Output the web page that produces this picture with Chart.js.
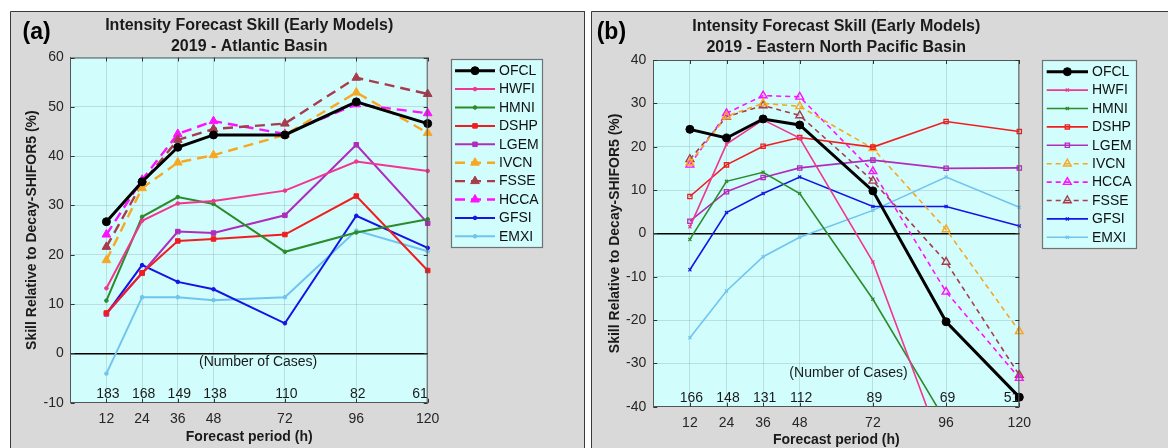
<!DOCTYPE html>
<html><head><meta charset="utf-8">
<script src="https://cdn.jsdelivr.net/npm/chart.js@4.4.1/dist/chart.umd.min.js"></script>
<style>
html,body{margin:0;padding:0;background:#fff;width:1168px;height:448px;overflow:hidden;}
canvas{position:absolute;}
#ca{left:10px;top:11px;}
#cb{left:591px;top:11px;}
</style></head><body>
<canvas id="ca" width="575" height="437"></canvas>
<canvas id="cb" width="577" height="437"></canvas>
<script>
// ---------- DATA ----------
const hours = [12, 24, 36, 48, 72, 96, 120];

// (a) 2019 Atlantic Basin
const aOFCL = [26.7, 34.8, 41.8, 44.3, 44.3, 51.0, 46.6];
const aHWFI = [13.2, 26.9, 30.4, 30.9, 33.0, 38.9, 37.0];
const aHMNI = [10.7, 27.7, 31.7, 30.3, 20.6, 24.5, 27.2];
const aDSHP = [8.2, 16.3, 22.8, 23.2, 24.1, 31.9, 16.8];
const aLGEM = [8.0, 16.3, 24.7, 24.4, 28.0, 42.3, 26.4];
const aIVCN = [18.9, 33.5, 38.7, 40.2, 44.3, 52.9, 44.7];
const aFSSE = [21.6, 34.5, 43.3, 45.5, 46.6, 55.9, 52.6];
const aHCCA = [24.1, 35.2, 44.5, 47.1, 44.5, 50.5, 48.7];
const aGFSI = [8.0, 17.9, 14.5, 13.0, 6.1, 27.9, 21.4];
const aEMXI = [-4.1, 11.4, 11.4, 10.8, 11.4, 24.9, 20.7];
const aCases = ['183', '168', '149', '138', '110', '82', '61'];

// (b) 2019 Eastern North Pacific Basin
const bOFCL = [24.0, 22.0, 26.4, 25.0, 9.8, -20.4, -37.8];
const bHWFI = [1.5, 20.6, 26.2, 22.0, -6.6, -52.0, -60.0];
const bHMNI = [-1.4, 12.0, 14.1, 9.2, -15.2, -43.5, -50.0];
const bDSHP = [8.5, 15.8, 20.1, 22.1, 19.9, 25.8, 23.5];
const bLGEM = [2.8, 9.6, 12.9, 15.1, 16.9, 15.0, 15.1];
const bIVCN = [16.3, 27.0, 30.0, 29.3, 19.6, 0.9, -22.6];
const bHCCA = [15.8, 27.7, 31.8, 31.5, 14.3, -13.5, -33.4];
const bFSSE = [17.1, 26.9, 29.5, 27.2, 12.1, -6.6, -32.7];
const bGFSI = [-8.4, 4.8, 9.2, 13.0, 6.2, 6.2, 1.7];
const bEMXI = [-24.1, -13.3, -5.4, -0.9, 5.3, 13.0, 6.0];
const bCases = ['166', '148', '131', '112', '89', '69', '51'];

const aOrder = ['OFCL','HWFI','HMNI','DSHP','LGEM','IVCN','FSSE','HCCA','GFSI','EMXI'];
const bOrder = ['OFCL','HWFI','HMNI','DSHP','LGEM','IVCN','HCCA','FSSE','GFSI','EMXI'];
const aSeries = {OFCL:aOFCL,HWFI:aHWFI,HMNI:aHMNI,DSHP:aDSHP,LGEM:aLGEM,IVCN:aIVCN,FSSE:aFSSE,HCCA:aHCCA,GFSI:aGFSI,EMXI:aEMXI};
const bSeries = {OFCL:bOFCL,HWFI:bHWFI,HMNI:bHMNI,DSHP:bDSHP,LGEM:bLGEM,IVCN:bIVCN,HCCA:bHCCA,FSSE:bFSSE,GFSI:bGFSI,EMXI:bEMXI};

// ---------- STYLE ----------
const FONT = "'Liberation Sans', Arial, Helvetica, sans-serif";
const COLORS = {OFCL:'#000000', HWFI:'#f0368e', HMNI:'#2a8c2a', DSHP:'#f01e1e', LGEM:'#b02cbc',
  IVCN:'#f7a823', FSSE:'#a63c4c', HCCA:'#ff10ff', GFSI:'#1414e6', EMXI:'#70c4ee'};
const PANEL_BG = '#d9d9d9';
const PLOT_BG = '#d2fdfd';
const GRID = 'rgba(110,140,140,0.25)';
const AXIS = '#555555';

function styleFor(name, panel) {
  const c = COLORS[name];
  const s = {borderColor:c, pointBorderColor:c, pointBackgroundColor:c, borderDash:[], borderWidth:2,
    pointStyle:'circle', pointRadius:1.8, pointBorderWidth:1};
  if (name === 'OFCL') { s.borderWidth = 3; s.pointRadius = 4; s.pointStyle = 'circle'; return s; }
  const dashed = ['IVCN','FSSE','HCCA'].includes(name);
  const sq = ['DSHP','LGEM'].includes(name);
  if (panel === 'a') {
    s.borderWidth = 2;
    if (dashed) { s.borderWidth = 2.4; s.borderDash = [10,6]; s.pointStyle = 'triangle'; s.pointRadius = 5; }
    else if (sq) { s.pointStyle = 'rect'; s.pointRadius = 3.2; }
    else { s.pointStyle = 'circle'; s.pointRadius = 1.8; }
  } else {
    s.borderWidth = 1.6;
    if (dashed) { s.borderDash = [5,4]; s.pointStyle = 'triangle'; s.pointRadius = 4.5;
      s.pointBackgroundColor = 'rgba(0,0,0,0)'; s.pointBorderWidth = 1.4; }
    else if (sq) { s.pointStyle = 'rect'; s.pointRadius = 3; s.pointBackgroundColor = 'rgba(0,0,0,0)'; s.pointBorderWidth = 1.3; }
    else { s.pointStyle = 'crossRot'; s.pointRadius = 2.2; s.pointBorderWidth = 1.2; }
  }
  return s;
}

function makeDatasets(order, series, panel) {
  return order.map(name => Object.assign({
    label: name,
    data: hours.map((h, i) => ({x: h, y: series[name][i]})),
    tension: 0, fill: false, pointHoverRadius: 0,
    clip: {left: 8, top: 8, right: 8, bottom: 0}
  }, styleFor(name, panel)));
}

function makeScales(ymin, ymax, yw, xh) {
  return {
    x: {type: 'linear', min: 0, max: 120,
      afterBuildTicks: s => { s.ticks = hours.map(v => ({value: v})); },
      afterFit: s => { s.height = xh; },
      ticks: {font: {family: FONT, size: 14}, color: '#262626', padding: 8, maxRotation: 0, autoSkip: false,
        callback: v => String(v)},
      grid: {color: GRID, lineWidth: 1, drawTicks: false},
      border: {display: true, color: AXIS, width: 1}},
    y: {type: 'linear', min: ymin, max: ymax,
      afterFit: s => { s.width = yw; },
      ticks: {stepSize: 10, font: {family: FONT, size: 14}, color: '#262626', padding: 7},
      grid: {color: c => (c.tick && c.tick.value === 0) ? '#000000' : GRID,
             lineWidth: c => (c.tick && c.tick.value === 0) ? 1.6 : 1, drawTicks: false},
      border: {display: true, color: AXIS, width: 1}}
  };
}

const deco = {
  id: 'deco',
  beforeDraw(chart, args, o) {
    const ctx = chart.ctx, a = chart.chartArea;
    ctx.save();
    ctx.fillStyle = PANEL_BG;
    ctx.fillRect(0, 0, chart.width, chart.height);
    ctx.fillStyle = PLOT_BG;
    ctx.fillRect(a.left, a.top, a.right - a.left, a.bottom - a.top);
    ctx.restore();
  },
  beforeDatasetsDraw(chart, args, o) {
    const ctx = chart.ctx, xs = chart.scales.x, ys = chart.scales.y, a = chart.chartArea;
    ctx.save();
    ctx.fillStyle = '#1a1a1a';
    ctx.font = '14px ' + FONT;
    ctx.textBaseline = 'middle';
    const cy = ys.getPixelForValue(o.caseY);
    o.cases.forEach((t, i) => {
      const px = xs.getPixelForValue(hours[i]);
      if (i === o.cases.length - 1) { ctx.textAlign = 'right'; ctx.fillText(t, a.right, cy); }
      else { ctx.textAlign = 'center'; ctx.fillText(t, px + 1.5, cy); }
    });
    ctx.textAlign = 'center';
    ctx.fillText('(Number of Cases)', xs.getPixelForValue(o.nocX), ys.getPixelForValue(o.nocY));
    ctx.restore();
  },
  afterDraw(chart, args, o) {
    const ctx = chart.ctx, a = chart.chartArea, xs = chart.scales.x, ys = chart.scales.y;
    ctx.save();
    // plot box top & right
    ctx.strokeStyle = AXIS; ctx.lineWidth = 1;
    ctx.beginPath();
    ctx.moveTo(a.left, a.top + 0.5); ctx.lineTo(a.right, a.top + 0.5);
    ctx.moveTo(a.right - 0.5, a.top); ctx.lineTo(a.right - 0.5, a.bottom);
    ctx.stroke();
    // inside ticks
    ctx.strokeStyle = '#333'; ctx.beginPath();
    hours.forEach(h => {
      const px = Math.round(xs.getPixelForValue(h)) + 0.5;
      ctx.moveTo(px, a.bottom); ctx.lineTo(px, a.bottom - 4);
      ctx.moveTo(px, a.top); ctx.lineTo(px, a.top + 4);
    });
    ys.ticks.forEach(t => {
      const py = Math.round(ys.getPixelForValue(t.value)) + 0.5;
      ctx.moveTo(a.left, py); ctx.lineTo(a.left + 4, py);
      ctx.moveTo(a.right, py); ctx.lineTo(a.right - 4, py);
    });
    ctx.stroke();
    // panel border
    ctx.strokeStyle = '#3a3a3a'; ctx.lineWidth = 1; ctx.beginPath();
    ctx.moveTo(0.5, chart.height); ctx.lineTo(0.5, 0.5); ctx.lineTo(chart.width, 0.5);
    if (o.rightBorder) { ctx.moveTo(chart.width - 0.5, 0); ctx.lineTo(chart.width - 0.5, chart.height); }
    ctx.stroke();
    // titles
    const cx = (a.left + a.right) / 2;
    ctx.fillStyle = '#1a1a1a';
    ctx.textAlign = 'center'; ctx.textBaseline = 'middle';
    ctx.font = 'bold 16px ' + FONT;
    ctx.fillText(o.title[0], cx, o.titleY[0]);
    ctx.fillText(o.title[1], cx, o.titleY[1]);
    ctx.font = 'bold 23px ' + FONT;
    ctx.fillStyle = '#000';
    ctx.textAlign = 'left';
    ctx.fillText(o.tag, o.tagX, 22);
    ctx.fillStyle = '#1a1a1a';
    ctx.font = 'bold 14px ' + FONT;
    ctx.textAlign = 'center';
    ctx.fillText('Forecast period (h)', cx, o.xTitleY);
    ctx.save();
    ctx.translate(o.yTitleX, (a.top + a.bottom) / 2);
    ctx.rotate(-Math.PI / 2);
    ctx.fillText('Skill Relative to Decay-SHIFOR5 (%)', 0, 0);
    ctx.restore();
    // legend
    const L = o.legend;
    ctx.fillStyle = PLOT_BG;
    ctx.fillRect(L.x0, L.y0, L.x1 - L.x0, L.y1 - L.y0);
    ctx.strokeStyle = '#6e7474'; ctx.lineWidth = 1.2;
    ctx.strokeRect(L.x0 + 0.5, L.y0 + 0.5, L.x1 - L.x0, L.y1 - L.y0);
    chart.data.datasets.forEach((ds, i) => {
      const y = L.row0 + i * L.step;
      ctx.strokeStyle = ds.borderColor; ctx.lineWidth = ds.borderWidth;
      ctx.setLineDash(ds.borderDash || []);
      ctx.beginPath(); ctx.moveTo(L.s0, y); ctx.lineTo(L.s1, y); ctx.stroke();
      ctx.setLineDash([]);
      ctx.fillStyle = ds.pointBackgroundColor; ctx.strokeStyle = ds.pointBorderColor;
      ctx.lineWidth = ds.pointBorderWidth;
      Chart.helpers.drawPoint(ctx, {pointStyle: ds.pointStyle, radius: ds.pointRadius, rotation: 0,
        borderWidth: ds.pointBorderWidth}, (L.s0 + L.s1) / 2, y);
      ctx.fillStyle = '#111'; ctx.font = '14px ' + FONT;
      ctx.textAlign = 'left'; ctx.textBaseline = 'middle';
      ctx.fillText(ds.label, L.tx, y + 0.5);
    });
    ctx.restore();
  }
};

function build(id, order, series, panel, ymin, ymax, geo, decoOpts) {
  return new Chart(document.getElementById(id), {
    type: 'line',
    data: {datasets: makeDatasets(order, series, panel)},
    options: {
      responsive: false, animation: false, devicePixelRatio: 1,
      layout: {padding: {left: 0, top: geo.top, right: geo.right, bottom: 0}},
      scales: makeScales(ymin, ymax, geo.yw, geo.xh),
      plugins: {legend: {display: false}, tooltip: {enabled: false}, title: {display: false}, deco: decoOpts},
      events: []
    },
    plugins: [deco]
  });
}

build('ca', aOrder, aSeries, 'a', -10, 60,
  {top: 46.5, right: 157.3, yw: 60.7, xh: 45.3},
  {title: ['Intensity Forecast Skill (Early Models)', '2019 - Atlantic Basin'], titleY: [15, 35.7],
   tag: '(a)', tagX: 12.5, xTitleY: 426, yTitleX: 22.5, rightBorder: true,
   cases: aCases, caseY: -8.3, nocX: 63, nocY: -1.8,
   legend: {x0: 441, y0: 48, x1: 532, y1: 236, row0: 59.7, step: 18.4, s0: 445, s1: 485, tx: 489}});

build('cb', bOrder, bSeries, 'b', -40, 40,
  {top: 49, right: 148.7, yw: 62.3, xh: 41.3},
  {title: ['Intensity Forecast Skill (Early Models)', '2019 - Eastern North Pacific Basin'], titleY: [15.7, 37],
   tag: '(b)', tagX: 5.7, xTitleY: 429, yTitleX: 23.7, rightBorder: false,
   cases: bCases, caseY: -38, nocX: 64, nocY: -32.2,
   legend: {x0: 451, y0: 49, x1: 545, y1: 237, row0: 60.7, step: 18.4, s0: 455.7, s1: 497, tx: 501}});
</script>
</body></html>
